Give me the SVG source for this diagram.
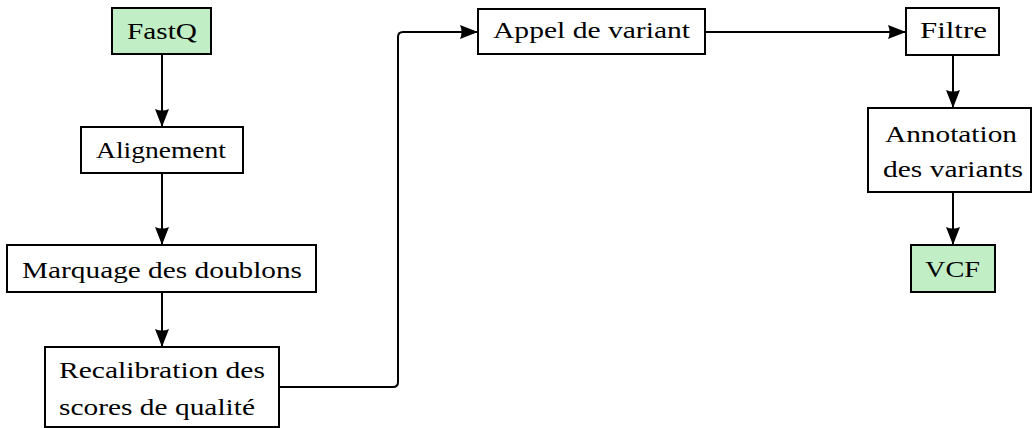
<svg xmlns="http://www.w3.org/2000/svg" width="1032" height="428" viewBox="0 0 1032 428">
  <style>
    .box { fill: #ffffff; stroke: #000000; stroke-width: 2; }
    .io { fill: #c2eec6; stroke: #000000; stroke-width: 2; }
    .lbl { font-family: "Liberation Serif", "DejaVu Serif", serif; font-size: 23px; fill: #000000; }
    .edge { fill: none; stroke: #000000; stroke-width: 2; marker-end: url(#head); }
  </style>
  <defs>
    <marker id="head" markerUnits="userSpaceOnUse" markerWidth="20" markerHeight="14" refX="18" refY="7" orient="auto">
      <path d="M0,0 L18,7 L0,14 Q3,7 0,0 z" fill="#000000"/>
    </marker>
  </defs>
  <rect width="1032" height="428" fill="#ffffff"/>

  <g id="connectors">
    <path class="edge" d="M162,54 V127"/>
    <path class="edge" d="M162,173 V245"/>
    <path class="edge" d="M162,292 V347"/>
    <path class="edge" d="M279,387 H393 Q398,387 398,382 V37 Q398,32 403,32 H478"/>
    <path class="edge" d="M705,32 H906"/>
    <path class="edge" d="M953,55 V108"/>
    <path class="edge" d="M953,192 V245"/>
  </g>

  <g id="fastq">
    <rect class="io" x="112" y="8" width="99" height="46"/>
    <text class="lbl" x="127" y="39" textLength="70" lengthAdjust="spacingAndGlyphs">FastQ</text>
  </g>
  <g id="alignement">
    <rect class="box" x="81" y="127" width="162" height="46"/>
    <text class="lbl" x="96" y="158" textLength="130" lengthAdjust="spacingAndGlyphs">Alignement</text>
  </g>
  <g id="marquage">
    <rect class="box" x="7" y="245" width="309" height="47"/>
    <text class="lbl" x="22" y="278" textLength="280" lengthAdjust="spacingAndGlyphs">Marquage des doublons</text>
  </g>
  <g id="recalibration">
    <rect class="box" x="45" y="347" width="234" height="80"/>
    <text class="lbl" x="59" y="378" textLength="206" lengthAdjust="spacingAndGlyphs">Recalibration des</text>
    <text class="lbl" x="59" y="415" textLength="196" lengthAdjust="spacingAndGlyphs">scores de qualité</text>
  </g>
  <g id="appel">
    <rect class="box" x="478" y="9" width="227" height="45"/>
    <text class="lbl" x="493" y="38" textLength="197" lengthAdjust="spacingAndGlyphs">Appel de variant</text>
  </g>
  <g id="filtre">
    <rect class="box" x="906" y="8" width="93" height="47"/>
    <text class="lbl" x="920" y="38" textLength="67" lengthAdjust="spacingAndGlyphs">Filtre</text>
  </g>
  <g id="annotation">
    <rect class="box" x="868" y="108" width="163" height="84"/>
    <text class="lbl" x="885" y="142" textLength="132" lengthAdjust="spacingAndGlyphs">Annotation</text>
    <text class="lbl" x="883" y="177" textLength="140" lengthAdjust="spacingAndGlyphs">des variants</text>
  </g>
  <g id="vcf">
    <rect class="io" x="911" y="245" width="84" height="47"/>
    <text class="lbl" x="925" y="277" textLength="55" lengthAdjust="spacingAndGlyphs">VCF</text>
  </g>
</svg>
